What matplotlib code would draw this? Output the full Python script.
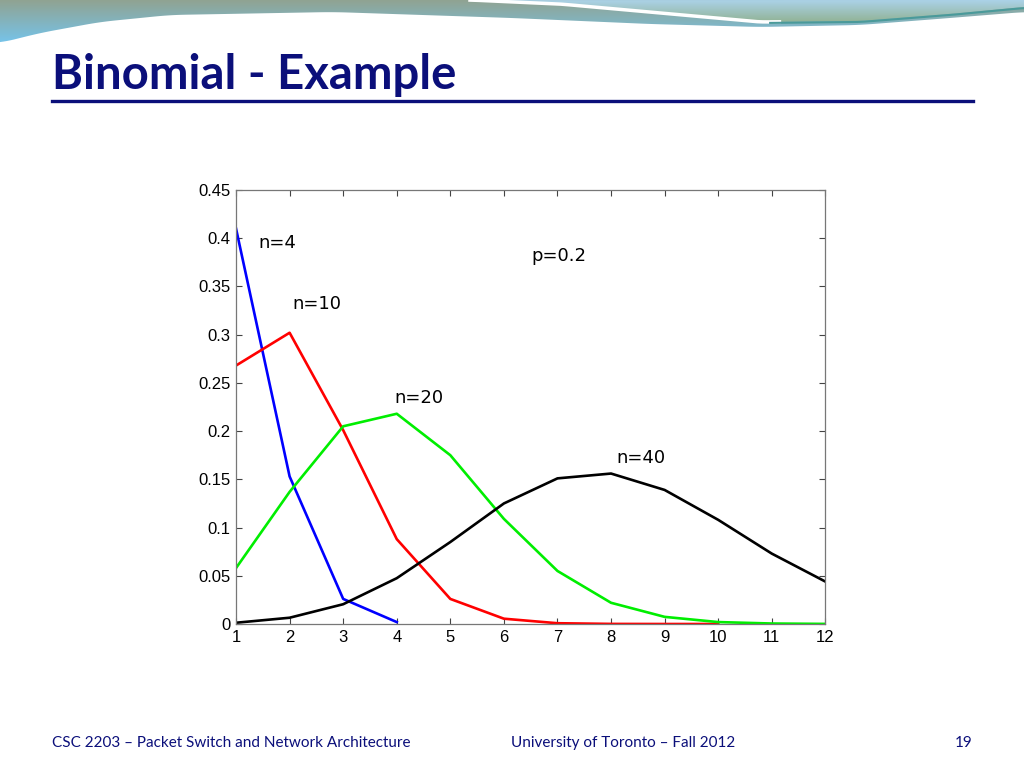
import matplotlib.pyplot as plt
from matplotlib.patches import Polygon
import numpy as np

# binomial pmf values, p = 0.2
k4 = [1, 2, 3, 4]
n4 = [0.41, 0.153, 0.026, 0.002]
k10 = [1, 2, 3, 4, 5, 6, 7, 8, 9, 10]
n10 = [0.268, 0.302, 0.201, 0.088, 0.026, 0.0055, 0.0008, 0.0001, 0.0, 0.0]
k20 = [1, 2, 3, 4, 5, 6, 7, 8, 9, 10, 11, 12]
n20 = [0.058, 0.137, 0.205, 0.218, 0.175, 0.109, 0.055, 0.022, 0.0074, 0.002, 0.0005, 0.0001]
k40 = [1, 2, 3, 4, 5, 6, 7, 8, 9, 10, 11, 12]
n40 = [0.0013, 0.0065, 0.0205, 0.0475, 0.085, 0.125, 0.151, 0.156, 0.139, 0.108, 0.073, 0.044]

yticks = [0, 0.05, 0.1, 0.15, 0.2, 0.25, 0.3, 0.35, 0.4, 0.45]
ytick_labels = ["0", "0.05", "0.1", "0.15", "0.2", "0.25", "0.3", "0.35", "0.4", "0.45"]

navy = "#0b0f7a"

fig = plt.figure(figsize=(10.24, 7.68), dpi=100)
fig.patch.set_facecolor("white")

# decorative wave band at the top of the slide (pixel coords)
bg = fig.add_axes([0, 0, 1, 1])
bg.set_xlim(0, 1024)
bg.set_ylim(768, 0)
bg.axis("off")


def smooth(px, py, n=300):
    xs = np.linspace(px[0], px[-1], n)
    ys = np.interp(xs, px, py)
    k = np.ones(9) / 9
    ys = np.convolve(np.pad(ys, 4, mode="edge"), k, mode="valid")
    return xs, ys


def grad_fill(poly_pts, top_col, bot_col, y0, y1):
    patch = Polygon(poly_pts, closed=True, fc="none", ec="none")
    bg.add_patch(patch)
    c0 = np.array(plt.matplotlib.colors.to_rgb(top_col))
    c1 = np.array(plt.matplotlib.colors.to_rgb(bot_col))
    t = np.linspace(0, 1, 64)[:, None]
    img = (c0 * (1 - t) + c1 * t)[:, None, :]
    im = bg.imshow(img, extent=[0, 1024, y1, y0], aspect="auto", zorder=1)
    im.set_clip_path(patch)


# lower edge of the whole band
lx, ly = smooth([0, 40, 100, 170, 333, 512, 650, 760, 860, 950, 1024],
                [43, 33, 22, 15, 12, 18, 24, 27, 25, 18, 12])
band = np.column_stack([np.r_[0, lx, 1024], np.r_[0, ly, 0]])
grad_fill(band, "#90a392", "#74c6f0", 0, 46)

# light streak and upper right region
sx, sy = smooth([470, 560, 650, 760, 860, 950, 1024], [0, 4, 12, 22, 21, 14, 7])
upper = np.column_stack([np.r_[sx, 1024], np.r_[sy, 0]])
grad_fill(upper, "#abd2e8", "#8fb08e", 0, 24)
bg.plot(sx[sx < 780], sy[sx < 780], color="white", lw=2.5, zorder=2)
bg.plot(sx[sx > 770], sy[sx > 770] + 1, color="#4a9a9a", lw=1.5, zorder=2)

fig.text(0.051, 0.902, "Binomial - Example", fontsize=34, fontweight="bold",
         color=navy, family="Lato", va="center", ha="left")
fig.add_artist(plt.Line2D([0.051, 0.950], [0.868, 0.868], color=navy, lw=2.4))

fig.text(0.051, 0.032, "CSC 2203 \u2013 Packet Switch and Network Architecture", fontsize=11,
         color=navy, family="Lato", va="center")
fig.text(0.499, 0.032, "University of Toronto \u2013 Fall 2012", fontsize=11,
         color=navy, family="Lato", va="center")
fig.text(0.950, 0.032, "19", fontsize=11, color=navy, family="Lato", va="center", ha="right")

ax = fig.add_axes([0.2305, 0.1875, 0.5755, 0.5651])
ax.plot(k4, n4, color="#0000ff", lw=1.9)
ax.plot(k10, n10, color="#ff0000", lw=1.9)
ax.plot(k20, n20, color="#00ee00", lw=1.9)
ax.plot(k40, n40, color="black", lw=1.9)

ax.set_xlim(1, 12)
ax.set_ylim(0, 0.45)
ax.set_xticks(range(1, 13))
ax.set_yticks(yticks)
ax.set_yticklabels(ytick_labels)
ax.tick_params(direction="in", length=4, width=0.8, color="#444444", top=True, right=True,
               labelsize=12, pad=4)
for lab in ax.get_xticklabels() + ax.get_yticklabels():
    lab.set_family("Liberation Sans")
for s in ax.spines.values():
    s.set_color("#777777")
    s.set_linewidth(0.9)

ax.text(1.41, 0.395, "n=4", fontsize=13, va="center")
ax.text(2.05, 0.332, "n=10", fontsize=13, va="center")
ax.text(3.95, 0.234, "n=20", fontsize=13, va="center")
ax.text(8.10, 0.172, "n=40", fontsize=13, va="center")
ax.text(6.51, 0.382, "p=0.2", fontsize=13, va="center")

fig.savefig("out.png", dpi=100)
